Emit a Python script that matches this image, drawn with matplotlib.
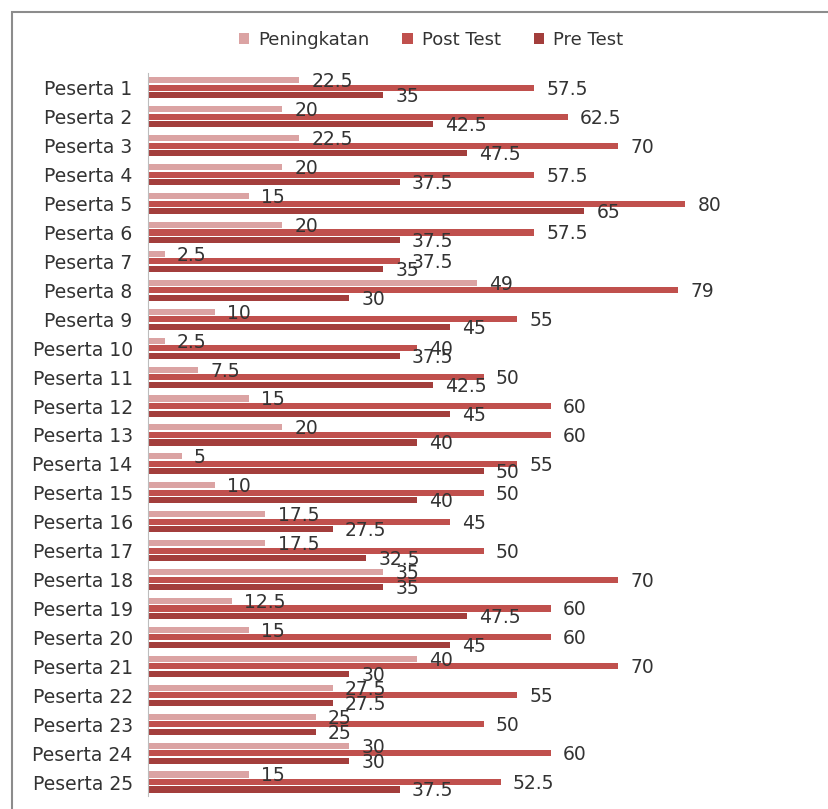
import numpy as np
import matplotlib.pyplot as plt
from matplotlib.patches import Rectangle

plt.rcParams['font.family'] = ['DejaVu Sans']

peserta = ['Peserta %d' % i for i in range(1, 26)]
peningkatan = [22.5, 20, 22.5, 20, 15, 20, 2.5, 49, 10, 2.5, 7.5, 15, 20, 5, 10,
               17.5, 17.5, 35, 12.5, 15, 40, 27.5, 25, 30, 15]
post_test = [57.5, 62.5, 70, 57.5, 80, 57.5, 37.5, 79, 55, 40, 50, 60, 60, 55, 50,
             45, 50, 70, 60, 60, 70, 55, 50, 60, 52.5]
pre_test = [35, 42.5, 47.5, 37.5, 65, 37.5, 35, 30, 45, 37.5, 42.5, 45, 40, 50, 40,
            27.5, 32.5, 35, 47.5, 45, 30, 27.5, 25, 30, 37.5]

fig = plt.figure(figsize=(8.29, 8.09), dpi=100)
fig.patch.set_facecolor('white')
ax = fig.add_axes([0.1785, 0.0155, 0.81, 0.8937])

y = np.arange(len(peserta))
h = 0.21
off = 0.26
series = [
    (peningkatan, -off, '#dba3a3', 'Peningkatan'),
    (post_test, 0, '#c0504d', 'Post Test'),
    (pre_test, off, '#a33e3c', 'Pre Test'),
]
for vals, d, col, lab in series:
    bars = ax.barh(y + d, vals, height=h, color=col, label=lab)
    for b, v in zip(bars, vals):
        ax.text(v + 1.8, b.get_y() + h / 2 + 0.05, '%g' % v, va='center', ha='left',
                fontsize=13.5, color='#333333')

ax.set_ylim(len(peserta) - 0.5, -0.5)
ax.set_xlim(0, 100)
ax.set_yticks(y)
ax.set_yticklabels(peserta, fontsize=13.5, color='#333333')
ax.tick_params(axis='y', length=0, pad=11)
ax.set_xticks([])
for s in ['top', 'right', 'bottom']:
    ax.spines[s].set_visible(False)
ax.spines['left'].set_color('#bdbdbd')

leg = ax.legend(loc='center', bbox_transform=fig.transFigure,
                bbox_to_anchor=(0.52, 0.951), ncol=3, frameon=False,
                fontsize=13, handlelength=0.6, handleheight=0.6,
                handletextpad=0.5, columnspacing=1.8)
for t in leg.get_texts():
    t.set_color('#333333')

# outer frame
fig.patches.append(Rectangle((12 / 829, -0.1), 1.2, 1 - 12 / 809 + 0.1,
                             transform=fig.transFigure, fill=False,
                             edgecolor='#8c8c8c', linewidth=1.5))

fig.savefig('out.png', dpi=100)
